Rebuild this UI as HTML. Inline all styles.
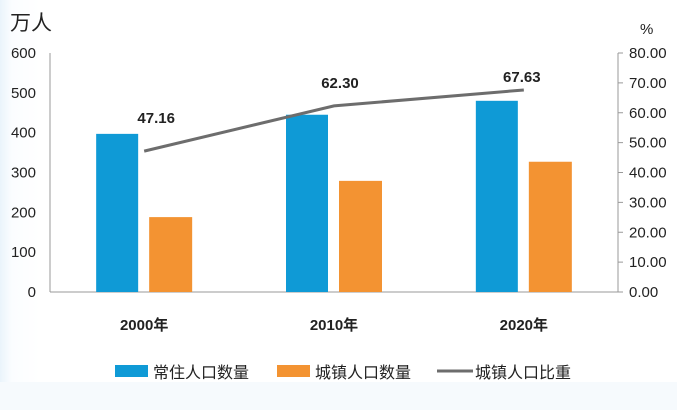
<!DOCTYPE html>
<html><head><meta charset="utf-8"><style>
body{margin:0;width:677px;height:410px;overflow:hidden;background:linear-gradient(90deg,#eaf4fb 0,#fbfdff 12px,#fff 40px);font-family:"Liberation Sans","Noto Sans CJK SC",sans-serif}
</style></head><body>
<svg width="677" height="410" style="position:absolute;left:0;top:0">
<rect x="0" y="382" width="677" height="28" fill="#f6fafd"/>
<g id="g"></g>
</svg>
<script>
const categories=["2000年","2010年","2020年"];
const resident=[397,445,480];
const urban=[188,279,327];
const ratio=[47.16,62.30,67.63];
const leftTicks=[0,100,200,300,400,500,600];
const rightTicks=[0,10,20,30,40,50,60,70,80];
const labelDx=[12,6,-2], labelDy=[-28,-18,-8];
const X0=50,X1=618,Y0=292,Y1=53;
const yL=v=>Y0-(v/600)*(Y0-Y1);
const yR=v=>Y0-(v/80)*(Y0-Y1);
const xC=i=>X0+(X1-X0)*(i+0.5)/categories.length+(i-1)*0.5;
const g=document.getElementById('g');const NS='http://www.w3.org/2000/svg';
function mk(t,a,txt){const e=document.createElementNS(NS,t);for(const k in a)e.setAttribute(k,a[k]);if(txt!=null)e.textContent=txt;g.appendChild(e);return e;}
let e;
e=mk('line',{x1:X0,y1:Y1,x2:X0,y2:Y0,stroke:'#999'});
e=mk('line',{x1:X1,y1:Y1,x2:X1,y2:Y0,stroke:'#999'});
e=mk('line',{x1:X0,y1:Y0,x2:X1,y2:Y0,stroke:'#999'});
leftTicks.forEach(v=>{e=mk('text',{x:36,y:yL(v)+5,'text-anchor':'end','font-size':15,fill:'#222'},v);});
rightTicks.forEach(v=>{e=mk('line',{x1:X1,y1:yR(v),x2:X1+5,y2:yR(v),stroke:'#999'});
e=mk('text',{x:629,y:yR(v)+5,'font-size':15,fill:'#222'},v.toFixed(2));});
e=mk('text',{x:10,y:30,'font-size':21,fill:'#222'},'万人');
e=mk('text',{x:640,y:34,'font-size':15,fill:'#222'},'%');
categories.forEach((c,i)=>{const cx=xC(i);
e=mk('rect',{x:cx-48,y:yL(resident[i]),width:42,height:Y0-yL(resident[i]),fill:'#0f9ad6'});
e=mk('rect',{x:cx+5,y:yL(urban[i]),width:43,height:Y0-yL(urban[i]),fill:'#f39332'});
e=mk('text',{x:cx,y:330,'text-anchor':'middle','font-size':15,'font-weight':'bold',fill:'#222'},c);
e=mk('text',{x:cx+labelDx[i],y:yR(ratio[i])+labelDy[i],'text-anchor':'middle','font-size':15,'font-weight':'bold',fill:'#222'},ratio[i].toFixed(2));
});
e=mk('polyline',{points:ratio.map((v,i)=>xC(i)+','+yR(v)).join(' '),fill:'none',stroke:'#6d6d6d','stroke-width':3});
const leg=[['rect','#0f9ad6','常住人口数量',115],['rect','#f39332','城镇人口数量',277],['line','#6d6d6d','城镇人口比重',437]];
leg.forEach(l=>{if(l[0]=='rect'){e=mk('rect',{x:l[3],y:365,width:33,height:12,fill:l[1]});}else{e=mk('line',{x1:l[3],y1:371,x2:l[3]+36,y2:371,stroke:l[1],'stroke-width':3});}

e=mk('text',{x:l[3]+38,y:378,'font-size':16,fill:'#222'},l[2]);});
</script>
</body></html>
